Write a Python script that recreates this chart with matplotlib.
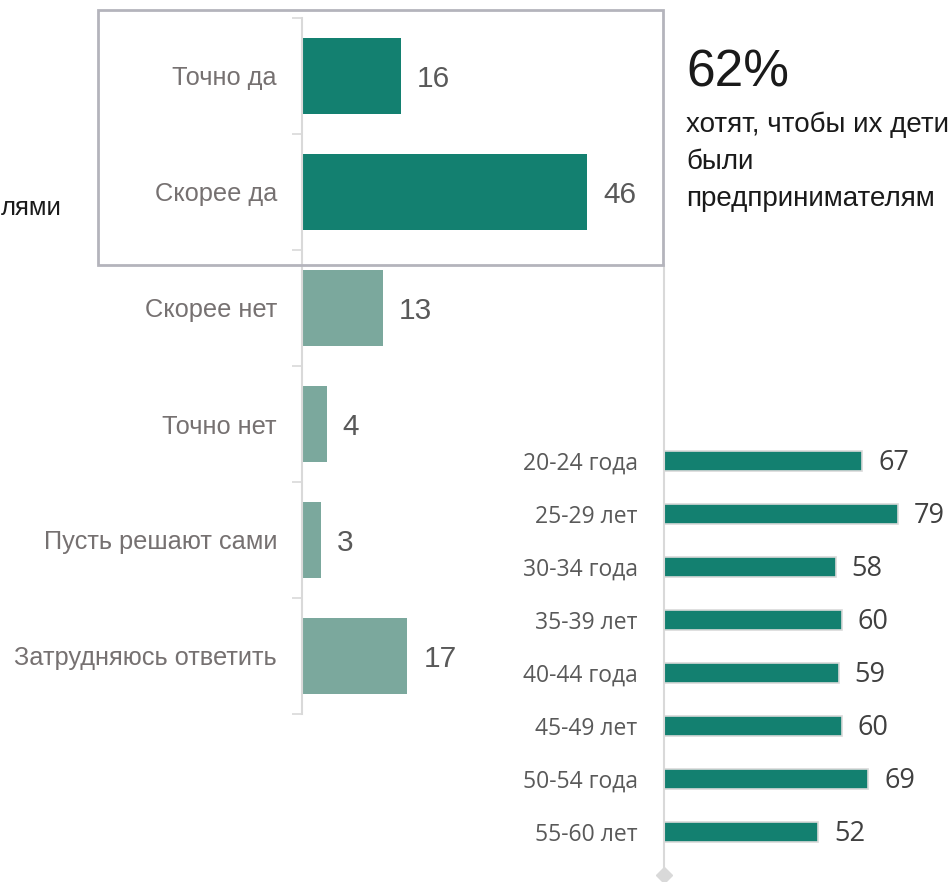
import numpy as np
import matplotlib.pyplot as plt
from matplotlib.patches import Rectangle

# Main question: answers and shares (%)
answers = ['Точно да', 'Скорее да', 'Скорее нет', 'Точно нет',
           'Пусть решают сами', 'Затрудняюсь ответить']
shares = [16, 46, 13, 4, 3, 17]
is_yes = [True, True, False, False, False, False]

# Age breakdown (%)
ages = ['20-24 года', '25-29 лет', '30-34 года', '35-39 лет',
        '40-44 года', '45-49 лет', '50-54 года', '55-60 лет']
age_shares = [67, 79, 58, 60, 59, 60, 69, 52]

W, H = 952, 882
DARK = '#138070'
LIGHT = '#7ba89d'
AXIS = '#d9d9d9'

fig = plt.figure(figsize=(W / 100, H / 100), dpi=100)

def px_axes(x0, y0, x1, y1):
    # axes placed by pixel box (top-left origin)
    return fig.add_axes([x0 / W, 1 - y1 / H, (x1 - x0) / W, (y1 - y0) / H])

# --- main chart ---
ax = px_axes(302, 18, 660, 714)
y = np.arange(len(answers))
colors = [DARK if f else LIGHT for f in is_yes]
ax.barh(y, shares, height=0.66, color=colors)
ax.set_ylim(len(answers) - 0.5, -0.5)
ax.set_xlim(0, 57.7)
ax.set_yticks(y)
ax.set_yticklabels(answers, fontsize=18.3, color='#767171', family='Liberation Sans')
ax.set_yticks(np.arange(len(answers) + 1) - 0.5, minor=True)
ax.tick_params(axis='y', which='major', length=0, pad=18)
ax.tick_params(axis='y', which='minor', length=7, color=AXIS, width=1.2)
ax.set_xticks([])
for s in ['top', 'right', 'bottom']:
    ax.spines[s].set_visible(False)
ax.spines['left'].set_color(AXIS)
ax.spines['left'].set_linewidth(1.5)
ax.patch.set_alpha(0)
for yi, v in zip(y, shares):
    ax.annotate(str(v), (v, yi), xytext=(11.5, -2.5), textcoords='offset points',
                ha='left', va='center', fontsize=21.5, color='#595959',
                family='Liberation Sans')

# --- age chart ---
ax2 = px_axes(664, 265, 952, 875)
y2 = np.arange(len(ages))
ax2.barh(y2, age_shares, height=0.38, color=DARK, edgecolor=AXIS, linewidth=1.2)
ax2.set_ylim(7.81, -3.70)
ax2.set_xlim(0, 97.3)
ax2.set_yticks(y2)
ax2.set_yticklabels(ages, fontsize=16.5, color='#595959', family='Open Sans')
ax2.tick_params(axis='y', length=0, pad=19)
ax2.set_xticks([])
for s in ['top', 'right', 'bottom']:
    ax2.spines[s].set_visible(False)
ax2.spines['left'].set_color(AXIS)
ax2.spines['left'].set_linewidth(1.5)
ax2.patch.set_alpha(0)
ax2.plot([0], [7.81], marker='D', markersize=8, color=AXIS, clip_on=False)
for yi, v in zip(y2, age_shares):
    ax2.annotate(str(v), (v, yi), xytext=(11.5, -1.5), textcoords='offset points',
                 ha='left', va='center', fontsize=19.5, color='#404040',
                 family='Open Sans')

# highlight box around "yes" answers
fig.patches.append(Rectangle((98 / W, 1 - 265 / H), (663 - 98) / W, (265 - 10) / H,
                             transform=fig.transFigure, fill=False,
                             edgecolor='#b4b4bc', linewidth=2))

# callout text
fig.text(686 / W, 1 - 73 / H, '62%', fontsize=37, color='#1a1a1a',
         family='Liberation Sans', va='center', ha='left')
fig.text(686 / W, 1 - 112 / H, 'хотят, чтобы их дети\nбыли\nпредпринимателям',
         fontsize=20, color='#1a1a1a', family='Liberation Sans',
         va='top', ha='left', linespacing=1.55)
fig.text(1 / W, 1 - 208 / H, 'лями', fontsize=18.5, color='#1a1a1a',
         family='Liberation Sans', va='center', ha='left')

fig.savefig('out.png', dpi=100)
